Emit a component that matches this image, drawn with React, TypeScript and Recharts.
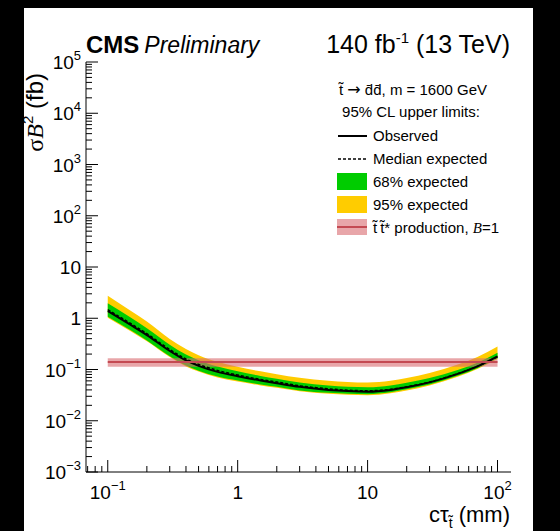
import { ComposedChart, Area, Line, XAxis, YAxis, Legend } from "recharts"

// c tau (mm) sample points of the limit curves
const ctau = [0.1, 0.15, 0.2, 0.3, 0.4, 0.5, 0.7, 1, 1.5, 2, 3, 5, 7, 10, 15, 20, 30, 50, 70, 100]
const observed = [1.38, 0.74, 0.47, 0.23, 0.15, 0.118, 0.09, 0.074, 0.061, 0.054, 0.046, 0.04, 0.038, 0.037, 0.04, 0.045, 0.056, 0.083, 0.115, 0.18]
const expected = [1.47, 0.79, 0.5, 0.245, 0.16, 0.126, 0.096, 0.078, 0.064, 0.057, 0.048, 0.042, 0.0395, 0.0385, 0.041, 0.046, 0.057, 0.084, 0.115, 0.178]
const exp68Low = [1.07, 0.58, 0.37, 0.182, 0.12, 0.095, 0.073, 0.061, 0.051, 0.046, 0.039, 0.035, 0.0335, 0.033, 0.036, 0.041, 0.051, 0.076, 0.106, 0.166]
const exp68High = [1.96, 1.03, 0.64, 0.305, 0.197, 0.152, 0.114, 0.092, 0.075, 0.066, 0.056, 0.049, 0.046, 0.045, 0.049, 0.055, 0.068, 0.099, 0.136, 0.212]
const exp95Low = [1.02, 0.555, 0.355, 0.175, 0.115, 0.091, 0.07, 0.058, 0.049, 0.044, 0.0375, 0.0335, 0.032, 0.0315, 0.0345, 0.039, 0.049, 0.073, 0.102, 0.16]
const exp95High = [2.75, 1.4, 0.86, 0.395, 0.25, 0.19, 0.141, 0.113, 0.092, 0.081, 0.069, 0.06, 0.057, 0.0555, 0.06, 0.068, 0.085, 0.126, 0.176, 0.28]

// stop pair production cross section (m = 1600 GeV)
const theoryCtau = [0.1, 100]
const theoryXsec = [0.14, 0.14]
const theoryLow = [0.113, 0.113]
const theoryHigh = [0.165, 0.165]

const xMajor = [0.1, 1, 10, 100]
const xMajorLabels: [string, string][] = [["10", "\u22121"], ["1", ""], ["10", ""], ["10", "2"]]
const yMajor = [1e-3, 1e-2, 1e-1, 1, 10, 1e2, 1e3, 1e4, 1e5]
const yMajorLabels: [string, string][] = [
  ["10", "\u22123"], ["10", "\u22122"], ["10", "\u22121"], ["1", ""], ["10", ""],
  ["10", "2"], ["10", "3"], ["10", "4"], ["10", "5"],
]

const X_DOMAIN: [number, number] = [0.068, 127]
const Y_DOMAIN: [number, number] = [1e-3, 1e5]

const minorSteps = [2, 3, 4, 5, 6, 7, 8, 9]
const xTicks = [0.07, 0.08, 0.09, ...xMajor.flatMap((m) => (m < 100 ? [m, ...minorSteps.map((s) => s * m)] : [m]))]
const yTicks = yMajor.flatMap((m) => (m < 1e5 ? [m, ...minorSteps.map((s) => s * m)] : [m]))

const FONT = "'Liberation Sans', Arial, Helvetica, sans-serif"
const SERIF = "'Liberation Serif', 'Times New Roman', serif"

const rows = ctau.map((x, i) => ({
  x,
  obs: observed[i],
  exp: expected[i],
  band68: [exp68Low[i], exp68High[i]],
  band95: [exp95Low[i], exp95High[i]],
}))

const theoryRows = theoryCtau.map((x, i) => ({
  x,
  xsec: theoryXsec[i],
  band: [theoryLow[i], theoryHigh[i]],
}))

function majorIndex(v: number, majors: number[]) {
  return majors.findIndex((m) => Math.abs(v / m - 1) < 1e-6)
}

function TickLabel({ x, y, parts, anchor }: { x: number; y: number; parts: [string, string]; anchor: "middle" | "end" }) {
  return (
    <text x={x} y={y} textAnchor={anchor} fontFamily={FONT} fontSize={19} fill="#000">
      {parts[0]}
      {parts[1] && (
        <tspan fontSize={13} dy={-9}>
          {parts[1]}
        </tspan>
      )}
    </text>
  )
}

function BottomTick(props: any) {
  const { x, y, payload } = props
  const idx = majorIndex(payload.value, xMajor)
  const len = idx >= 0 ? 12 : 6
  return (
    <g>
      <line x1={x} x2={x} y1={y} y2={y - len} stroke="#000" />
      {idx >= 0 && <TickLabel x={x} y={y + 27} parts={xMajorLabels[idx]} anchor="middle" />}
    </g>
  )
}

function TopTick(props: any) {
  const { x, y, payload } = props
  const len = majorIndex(payload.value, xMajor) >= 0 ? 12 : 6
  return <line x1={x} x2={x} y1={y} y2={y + len} stroke="#000" />
}

function LeftTick(props: any) {
  const { x, y, payload } = props
  const idx = majorIndex(payload.value, yMajor)
  const len = idx >= 0 ? 12 : 6
  return (
    <g>
      <line x1={x} x2={x + len} y1={y} y2={y} stroke="#000" />
      {idx >= 0 && <TickLabel x={x - 5} y={y + 7} parts={yMajorLabels[idx]} anchor="end" />}
    </g>
  )
}

function RightTick(props: any) {
  const { x, y, payload } = props
  const len = majorIndex(payload.value, yMajor) >= 0 ? 12 : 6
  return <line x1={x} x2={x - len} y1={y} y2={y} stroke="#000" />
}

function LegendBox() {
  const t = { fontFamily: FONT, fontSize: 15, fill: "#000" }
  return (
    <svg width={190} height={170} style={{ overflow: "visible" }}>
      <text {...t} x={83} y={20} textAnchor="middle">
        {"t\u0303 "}
        <tspan fontFamily="'DejaVu Sans', sans-serif" fontSize={16}>{"\u2192"}</tspan>
        {" d\u0304d\u0304, m = 1600 GeV"}
      </text>
      <text {...t} x={81} y={42} textAnchor="middle">
        95% CL upper limits:
      </text>
      <line x1={8} x2={37} y1={61} y2={61} stroke="#000" strokeWidth={2} />
      <text {...t} x={43} y={66}>Observed</text>
      <line x1={8} x2={37} y1={84} y2={84} stroke="#000" strokeWidth={1.5} strokeDasharray="3 2" />
      <text {...t} x={43} y={89}>Median expected</text>
      <rect x={7} y={98} width={30} height={17} fill="#00cc00" />
      <text {...t} x={43} y={112}>68% expected</text>
      <rect x={7} y={121} width={30} height={17} fill="#ffcc00" />
      <text {...t} x={43} y={135}>95% expected</text>
      <rect x={7} y={144} width={30} height={16} fill="#d86a70" fillOpacity={0.6} />
      <line x1={7} x2={37} y1={152} y2={152} stroke="#c44a52" strokeWidth={2} />
      <text {...t} x={43} y={158}>
        {"t\u0303\u2009t\u0303* production, "}
        <tspan fontFamily={SERIF} fontStyle="italic">B</tspan>=1
      </text>
    </svg>
  )
}

export default function App() {
  return (
    <div style={{ position: "absolute", left: 0, top: 0, width: 560, height: 531, background: "#000" }}>
      <div style={{ position: "absolute", left: 24, top: 8, width: 509, height: 523, background: "#fff" }} />
      <div style={{ position: "absolute", left: 0, top: 0 }}>
        <ComposedChart width={560} height={531} data={rows} margin={{ top: 62, right: 49, bottom: 0, left: 0 }}>
          <XAxis
            dataKey="x"
            type="number"
            scale="log"
            domain={X_DOMAIN}
            allowDataOverflow
            ticks={xTicks}
            interval={0}
            height={59}
            tickSize={0}
            tickMargin={0}
            tickLine={false}
            axisLine={{ stroke: "#000" }}
            tick={BottomTick}
          />
          <XAxis
            xAxisId="top"
            orientation="top"
            type="number"
            scale="log"
            domain={X_DOMAIN}
            allowDataOverflow
            ticks={xTicks}
            interval={0}
            height={0}
            tickSize={0}
            tickMargin={0}
            tickLine={false}
            axisLine={{ stroke: "#000" }}
            tick={TopTick}
          />
          <YAxis
            type="number"
            scale="log"
            domain={Y_DOMAIN}
            allowDataOverflow
            ticks={yTicks}
            interval={0}
            width={86}
            tickSize={0}
            tickMargin={0}
            tickLine={false}
            axisLine={{ stroke: "#000" }}
            tick={LeftTick}
          />
          <YAxis
            yAxisId="right"
            orientation="right"
            type="number"
            scale="log"
            domain={Y_DOMAIN}
            allowDataOverflow
            ticks={yTicks}
            interval={0}
            width={0}
            tickSize={0}
            tickMargin={0}
            tickLine={false}
            axisLine={{ stroke: "#000" }}
            tick={RightTick}
          />
          <Area dataKey="band95" type="monotone" stroke="none" fill="#ffcc00" fillOpacity={1} isAnimationActive={false} />
          <Area dataKey="band68" type="monotone" stroke="none" fill="#00cc00" fillOpacity={1} isAnimationActive={false} />
          <Line dataKey="exp" type="monotone" stroke="#000" strokeWidth={1.5} strokeDasharray="3 2" dot={false} activeDot={false} isAnimationActive={false} />
          <Line dataKey="obs" type="monotone" stroke="#000" strokeWidth={2} dot={false} activeDot={false} isAnimationActive={false} />
          <Area data={theoryRows} dataKey="band" type="linear" stroke="none" fill="#d86a70" fillOpacity={0.6} isAnimationActive={false} />
          <Line data={theoryRows} dataKey="xsec" type="linear" stroke="#c44a52" strokeWidth={2} dot={false} activeDot={false} isAnimationActive={false} />
          <Legend
            layout="vertical"
            align="center"
            verticalAlign="middle"
            content={LegendBox}
            wrapperStyle={{ position: "absolute", left: 330, top: 75, width: 190, height: 170 }}
          />
        </ComposedChart>
      </div>
      <svg width={560} height={531} style={{ position: "absolute", left: 0, top: 0, pointerEvents: "none" }}>
        <text x={86} y={53} fontFamily={FONT} fontSize={24} fill="#000">
          <tspan fontWeight="bold">CMS</tspan>
          <tspan dx={5} fontStyle="italic" fontSize={23}>Preliminary</tspan>
        </text>
        <text x={510} y={53} textAnchor="end" fontFamily={FONT} fontSize={25} fill="#000">
          140 fb
          <tspan fontSize={15} dy={-10}>-1</tspan>
          <tspan dy={10}> (13 TeV)</tspan>
        </text>
        <text x={510} y={522} textAnchor="end" fontFamily={FONT} fontSize={22} fill="#000">
          {"c\u03c4"}
          <tspan fontSize={14} dy={6}>{"t\u0303"}</tspan>
          <tspan dy={-6}> (mm)</tspan>
        </text>
        <text transform="translate(43,73) rotate(-90)" textAnchor="end" fontFamily={FONT} fontSize={24} fill="#000">
          <tspan fontFamily={SERIF}>{"\u03c3"}</tspan>
          <tspan fontFamily={SERIF} fontStyle="italic">B</tspan>
          <tspan fontSize={15} dy={-10}>2</tspan>
          <tspan dy={10}> (fb)</tspan>
        </text>
      </svg>
    </div>
  )
}
